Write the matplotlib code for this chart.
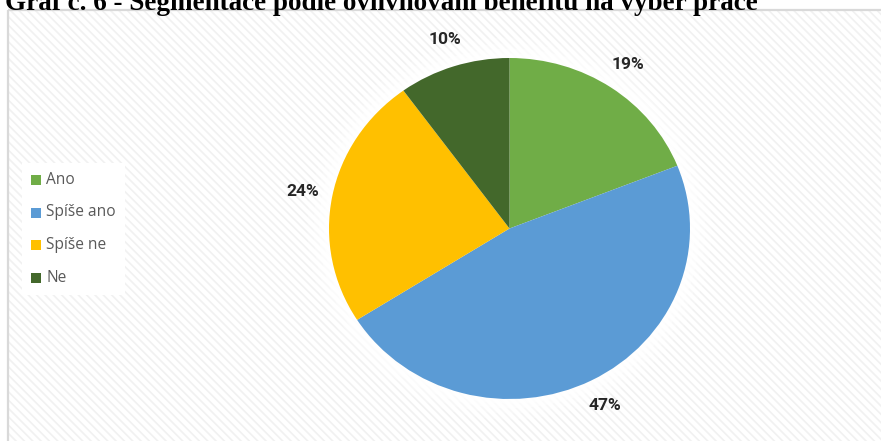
import matplotlib
matplotlib.use("Agg")
import matplotlib.pyplot as plt
from matplotlib.patches import Rectangle, Ellipse

categories = ["Ano", "Spíše ano", "Spíše ne", "Ne"]
shares = [19, 47, 24, 10]
colors = ["#70ad47", "#5b9bd5", "#ffc000", "#43682b"]
title = "Graf č. 6 - Segmentace podle ovlivňování benefitů na výběr práce"

W, H = 881, 441
fig = plt.figure(figsize=(W / 100, H / 100), dpi=100)
fig.patch.set_facecolor("white")


def px_axes(x0, y0, w, h, **kw):
    """Axes placed by pixel box measured from the top-left corner."""
    return fig.add_axes([x0 / W, 1 - (y0 + h) / H, w / W, h / H], **kw)


# background layer in pixel coordinates
bg = px_axes(0, 0, W, H)
bg.set_xlim(0, W)
bg.set_ylim(H, 0)
bg.axis("off")

plt.rcParams["hatch.linewidth"] = 1.2
bg.add_patch(Rectangle((8, 10), W, H, facecolor="white",
                       edgecolor="#f1f1f1", hatch="\\\\\\\\", lw=0, zorder=0))
bg.add_patch(Rectangle((8, 10), W, H, facecolor="none",
                       edgecolor="#d9d9d9", lw=1.6, zorder=1))

# legend panel
bg.add_patch(Rectangle((22, 163), 103, 132, facecolor="white",
                       edgecolor="none", zorder=2))

# legend entries
row_y0, row_step = 180, 32.5
for i, (name, c) in enumerate(zip(categories, colors)):
    y = row_y0 + i * row_step
    bg.add_patch(Rectangle((31, y - 5), 10, 10, facecolor=c,
                           edgecolor="none", zorder=3))
    bg.text(46, y, name, family="Open Sans", fontsize=11.2, color="#595959",
            va="center", ha="left", zorder=3)

# pie (slightly wider than tall)
cx, cy, rx, ry = 509.5, 228.5, 180.5, 170.5
pa = px_axes(cx - rx, cy - ry, 2 * rx, 2 * ry)
pa.set_aspect("auto")
pa.patch.set_alpha(0)

# soft white glow around the pie
for k, a in [(0.12, 0.25), (0.085, 0.35), (0.055, 0.5), (0.027, 0.7)]:
    pa.add_patch(Ellipse((0, 0), 2 * (1 + k), 2 * (1 + k), facecolor="white",
                         edgecolor="none", alpha=a, zorder=0, clip_on=False))

wedges, texts, autotexts = pa.pie(
    shares, colors=colors, startangle=90, counterclock=False,
    radius=1, autopct="%.0f%%", pctdistance=1.165,
    wedgeprops=dict(edgecolor="none", linewidth=0),
)
pa.set_aspect("auto")
pa.set_xlim(-1, 1)
pa.set_ylim(-1, 1)
pa.axis("off")
for w in wedges:
    w.set_zorder(3)
for t in autotexts:
    t.set_fontfamily("Roboto")
    t.set_fontweight("bold")
    t.set_fontsize(12.5)
    t.set_color("#262626")
    t.set_zorder(4)
    t.set_clip_on(False)

# chart title (partly clipped at the top edge)
fig.text(5 / W, 1 - 9.5 / H, title, family="Liberation Serif",
         fontweight="bold", fontsize=19.5, va="baseline", ha="left",
         color="black")

fig.savefig("out.png", dpi=100)
